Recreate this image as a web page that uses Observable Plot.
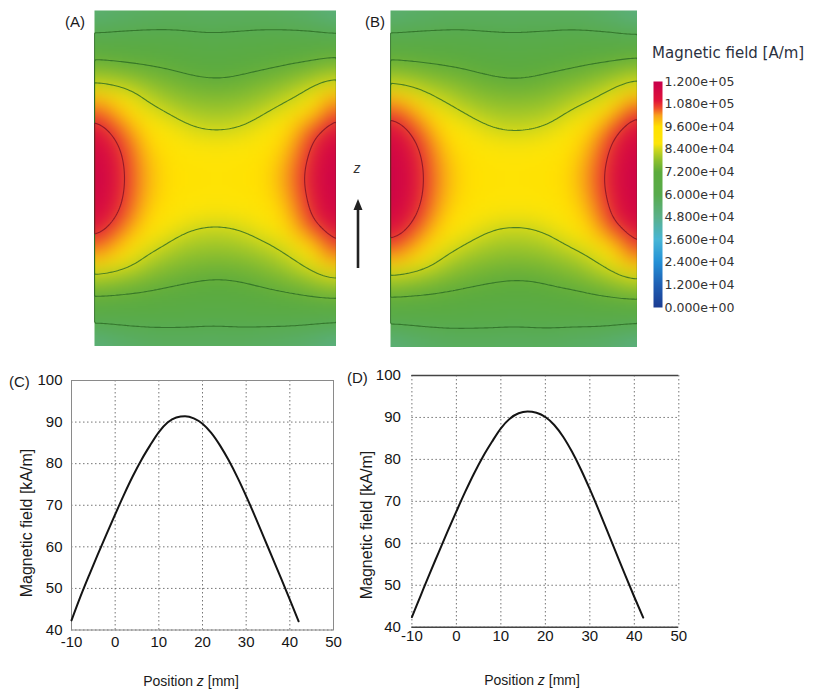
<!DOCTYPE html>
<html><head><meta charset="utf-8">
<script src="https://cdn.jsdelivr.net/npm/d3@7"></script>
<script src="https://cdn.jsdelivr.net/npm/@observablehq/plot@0.6"></script>
<style>
body{margin:0;background:#fff;}
#wrap{position:relative;width:814px;height:692px;overflow:hidden;background:#fff;}
.box{position:absolute;}
.lbl{position:absolute;font-family:"Liberation Sans",Arial,sans-serif;color:#1a1a1a;white-space:nowrap;line-height:1;}
</style></head><body><div id="wrap"></div>
<script>
// ---------- DATA ----------
// Field maps (kA/m), rows top -> bottom, 11 columns left -> right
const fieldA = [
  [50, 53, 54, 55, 55, 55, 55, 55, 54, 52, 47],
  [60, 60.5, 61, 61, 60.5, 60, 60.5, 61, 61, 61, 60],
  [72, 71, 70, 69, 67.5, 66.5, 67.5, 68.5, 70, 71, 73],
  [82, 80, 78, 76, 74, 73, 74, 76, 78, 81, 85],
  [105, 97, 85, 81, 79, 78.5, 79, 81, 84.5, 91, 108],
  [113, 106, 97, 89, 84.5, 83.5, 84.3, 88, 96, 107, 114],
  [117, 110, 100, 95, 91.5, 90, 91.5, 94, 100, 110, 118],
  [118, 111, 101, 96, 94, 93, 94, 96, 102, 112, 119],
  [117, 110, 100, 95, 91.5, 90, 91.5, 94, 100, 110.5, 118],
  [113, 106, 97, 89, 84.5, 83.5, 84.3, 88, 96.5, 108, 115],
  [105, 97, 85, 81, 79, 78.5, 79, 81, 84, 92, 110],
  [82.5, 80, 77.5, 75.5, 74, 73, 73.5, 75.5, 78, 81, 86],
  [71, 70.5, 70, 69, 68, 67.5, 68, 69, 70, 71, 71.5],
  [60, 60.5, 61, 61, 61, 60.5, 61, 61, 61, 60.5, 60],
  [48, 52, 54, 55, 55, 55, 55, 54, 53, 51, 46]
];
const fieldB = [
  [50, 53, 54, 55, 55, 55, 55, 55, 54, 52, 47],
  [60, 60.5, 61, 61, 60.5, 60, 60.5, 61, 61, 61, 60],
  [72, 71, 70, 69, 67.5, 66.5, 67.5, 68.5, 70, 71, 73],
  [82, 80, 78, 76, 74, 73, 74, 76, 78, 81, 85],
  [106, 98, 85.5, 81, 79, 78.5, 79, 81, 84.5, 92, 108],
  [114, 107, 97, 89, 84.5, 83.5, 84.3, 88, 96.5, 107.5, 114],
  [118, 111, 100.5, 95, 91.5, 90, 91.5, 94, 100.5, 110.5, 118],
  [119, 112, 101.5, 96, 94, 93, 94, 96, 102, 112, 119],
  [118, 111, 100.5, 95, 91.5, 90, 91.5, 94, 100.5, 110.5, 118],
  [114, 107, 97, 89, 84.5, 83.5, 84.3, 88, 96.5, 108, 115],
  [106, 98, 85.5, 81, 79, 78.5, 79, 81, 84, 92, 110],
  [82.5, 80, 77.5, 75.5, 74, 73, 73.5, 75.5, 78, 81, 86],
  [71, 70.5, 70, 69, 68, 67.5, 68, 69, 70, 71, 71.5],
  [60, 60.5, 61, 61, 61, 60.5, 61, 61, 61, 60.5, 60],
  [48, 52, 54, 55, 55, 55, 55, 54, 53, 51, 46]
];
const contourGreen = [60, 72, 84];
const contourRed = [108];

// Colour map (kA/m) and colour-bar labels
const colorDomain = [0, 12, 24, 36, 48, 60, 72, 78, 84, 87, 96, 102, 106, 110, 120];
const colorRange = ["#1b3c92", "#1f5fb4", "#2490d6", "#48b6d6", "#5bb08a", "#58ab4c",
                    "#5cab3c", "#8cbf2e", "#cfd81c", "#fde50a", "#ffe100", "#f8a01c",
                    "#ef4a2a", "#e0123a", "#c8004c"];
const colorTicks = [0, 12, 24, 36, 48, 60, 72, 84, 96, 108, 120];
const colorLabels = ["0.000e+00", "1.200e+04", "2.400e+04", "3.600e+04", "4.800e+04", "6.000e+04",
                     "7.200e+04", "8.400e+04", "9.600e+04", "1.080e+05", "1.200e+05"];

// Axial profiles
const zPos = [-10, -8, -6, -4, -2, 0, 2, 4, 6, 8, 10, 12, 14, 16, 18, 20, 22, 24, 26, 28, 30, 32, 34, 36, 38, 40, 42];
const fieldC = [42.3, 47.9, 53.1, 58.1, 63.0, 67.8, 72.5, 76.9, 80.9, 84.4, 87.6, 89.9, 91.1, 91.4, 90.9, 89.6,
                87.4, 84.4, 80.8, 76.7, 72.2, 67.4, 62.4, 57.4, 52.4, 47.3, 42.1];
const fieldD = [42.4, 47.6, 52.8, 57.8, 62.8, 67.6, 72.3, 76.7, 80.7, 84.2, 87.4, 89.7, 91.0, 91.4, 91.1, 90.1,
                88.2, 85.4, 81.8, 77.6, 72.9, 67.9, 62.7, 57.5, 52.3, 47.2, 42.3];
const xTicks = [-10, 0, 10, 20, 30, 40, 50];
const yTicks = [40, 50, 60, 70, 80, 90, 100];

// ---------- RENDER ----------
const wrap = document.getElementById("wrap");
function put(node, left, top) {
  node.classList.add("box");
  node.style.left = left + "px"; node.style.top = top + "px";
  wrap.appendChild(node);
}
function label(text, cx, cy, css, anchor = "center", rotate = 0) {
  const d = document.createElement("div");
  d.className = "lbl";
  d.innerHTML = text;
  Object.assign(d.style, css || {});
  d.style.left = cx + "px"; d.style.top = cy + "px";
  const tx = anchor === "start" ? "0" : "-50%";
  d.style.transform = `translate(${tx},-50%)` + (rotate ? ` rotate(${rotate}deg)` : "");
  wrap.appendChild(d);
}

const colorScale = {type: "linear", domain: colorDomain, range: colorRange, interpolate: "rgb", clamp: true};

function heat(field, w, h) {
  const pts = [];
  field.forEach((row, r) => row.forEach((v, c) => pts.push({x: c, y: r, v})));
  const nc = field[0].length - 1, nr = field.length - 1;
  const common = {x: "x", y: "y", interpolate: "barycentric", pixelSize: 2, blur: 5, x1: 0, x2: nc, y1: 0, y2: nr};
  return Plot.plot({
    width: w, height: h, margin: 0,
    x: {domain: [0, nc], axis: null},
    y: {domain: [0, nr], reverse: true, axis: null},
    color: colorScale,
    marks: [
      Plot.raster(pts, {...common, fill: "v"}),
      Plot.contour(pts, {...common, value: "v", thresholds: contourGreen, fill: "none", stroke: "#2c6a24", strokeWidth: 1.1, strokeOpacity: 0.8}),
      Plot.contour(pts, {...common, value: "v", thresholds: contourRed, fill: "none", stroke: "#7d1226", strokeWidth: 1.1, strokeOpacity: 0.8})
    ]
  });
}

put(heat(fieldA, 242, 336), 94, 10);
put(heat(fieldB, 247, 337), 390, 10);

// Colour legend
const labelMap = new Map(colorTicks.map((s, i) => [s, colorLabels[i]]));
const legend = Plot.plot({
  width: 165, height: 250, marginLeft: 8, marginRight: 148, marginTop: 11, marginBottom: 13,
  style: {fontFamily: "DejaVu Sans, sans-serif", fontSize: "12.5px", color: "#333", background: "transparent"},
  x: {domain: [0, 1], axis: null},
  y: {domain: [0, 120], axis: null},
  color: colorScale,
  marks: [
    Plot.raster({fill: (x, y) => y, x1: 0, x2: 1, y1: 0, y2: 120, pixelSize: 1}),
    Plot.axisY(colorTicks, {anchor: "right", tickSize: 0, tickPadding: 2, tickFormat: d => labelMap.get(d)})
  ]
});
put(legend, 645, 70);

function profile(values, opts) {
  const data = zPos.map((z, i) => ({z, b: values[i]}));
  return Plot.plot({
    width: opts.width, height: 332,
    marginLeft: opts.ml, marginRight: opts.mr, marginTop: opts.mt, marginBottom: opts.mb,
    style: {fontFamily: "Liberation Sans, Arial, sans-serif", fontSize: "15px", color: "#151515", background: "transparent"},
    x: {domain: [-10, 50], label: null},
    y: {domain: [40, 100], label: null},
    marks: [
      Plot.gridX(xTicks, {stroke: "#666", strokeOpacity: 0.9, strokeDasharray: "1.5,2.5"}),
      Plot.gridY(yTicks, {stroke: "#666", strokeOpacity: 0.9, strokeDasharray: "1.5,2.5"}),
      opts.frame ? Plot.frame({stroke: "#8a8a8a"}) : Plot.ruleY([40, 100], {stroke: "#444", strokeWidth: 1.4}),
      Plot.axisX(xTicks, {tickSize: 0, tickPadding: opts.px, tickFormat: d => String(d), label: null}),
      Plot.axisY(yTicks, {tickSize: 0, tickPadding: opts.py, tickFormat: d => String(d), label: null}),
      Plot.line(data, {x: "z", y: "b", curve: "monotone-x", stroke: "#141414", strokeWidth: 2})
    ]
  });
}
put(profile(fieldC, {width: 350, ml: 71, mr: 17, mt: 20, mb: 62.5, px: 6, py: 9, frame: true}), 0, 360);
put(profile(fieldD, {width: 340, ml: 56.4, mr: 16.7, mt: 15, mb: 65.3, px: 3, py: 11, frame: false}), 355, 360);

// Text annotations
label("(A)", 65, 21, {fontSize: "15px"}, "start");
label("(B)", 365, 21, {fontSize: "15px"}, "start");
label("(C)", 9, 381, {fontSize: "15px"}, "start");
label("(D)", 347, 377, {fontSize: "15px"}, "start");
label("Magnetic field [A/m]", 652, 53, {fontSize: "15px", fontFamily: "DejaVu Sans, sans-serif", color: "#2b3140"}, "start");
label("<i>z</i>", 357, 168, {fontSize: "14px", color: "#333"});
label("Position <i>z</i> [mm]", 191, 681, {fontSize: "14px"});
label("Position <i>z</i> [mm]", 532, 680, {fontSize: "14px"});
label("Magnetic field [kA/m]", 27, 523, {fontSize: "16px"}, "center", -90);
label("Magnetic field [kA/m]", 367, 525, {fontSize: "16px"}, "center", -90);

// z direction arrow
const ns = "http://www.w3.org/2000/svg";
const arr = document.createElementNS(ns, "svg");
arr.setAttribute("width", 16); arr.setAttribute("height", 76);
arr.innerHTML = '<line x1="8" y1="72" x2="8" y2="12" stroke="#222" stroke-width="2.6"/>' +
                '<polygon points="3.5,14 8,3 12.5,14" fill="#222"/>';
arr.style.position = "absolute"; arr.style.left = "350px"; arr.style.top = "196px";
wrap.appendChild(arr);
</script></body></html>
